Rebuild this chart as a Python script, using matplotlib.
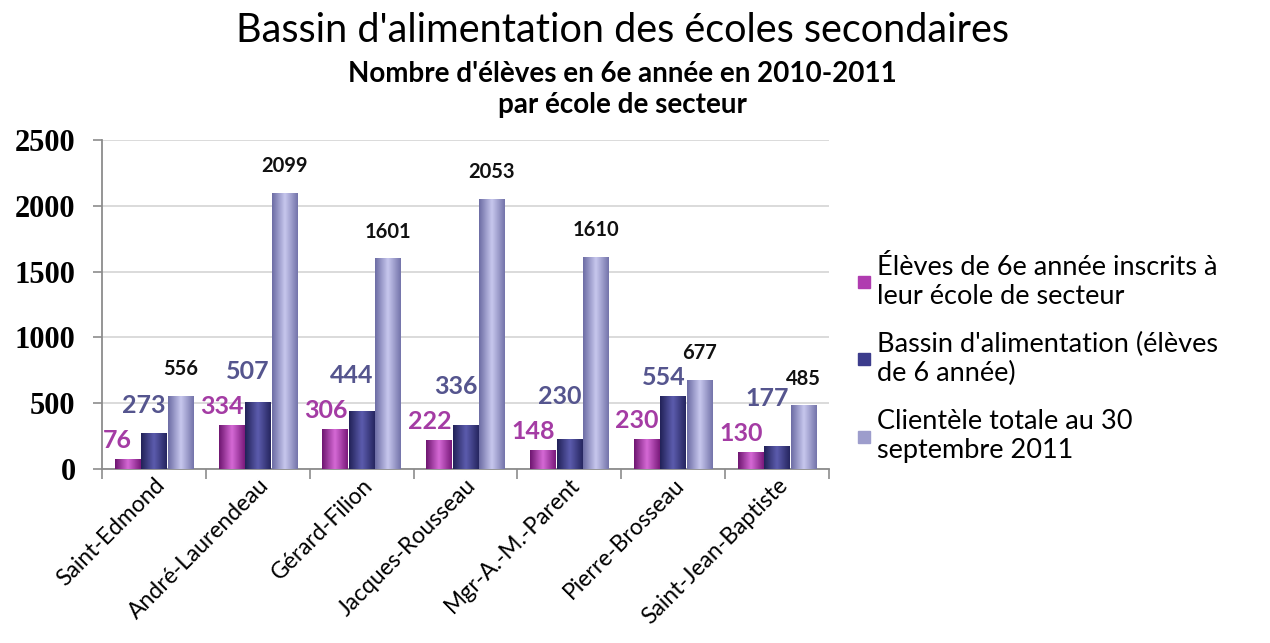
import numpy as np
import matplotlib
matplotlib.use("Agg")
import matplotlib.pyplot as plt
from matplotlib.colors import LinearSegmentedColormap
from matplotlib.lines import Line2D

categories = ["Saint-Edmond", "André-Laurendeau", "Gérard-Filion", "Jacques-Rousseau",
              "Mgr-A.-M.-Parent", "Pierre-Brosseau", "Saint-Jean-Baptiste"]
inscrits = [76, 334, 306, 222, 148, 230, 130]
bassin = [273, 507, 444, 336, 230, 554, 177]
clientele = [556, 2099, 1601, 2053, 1610, 677, 485]
series_names = ["Élèves de 6e année inscrits à\nleur école de secteur",
                "Bassin d'alimentation (élèves\nde 6 année)",
                "Clientèle totale au 30\nseptembre 2011"]
yticks = [0, 500, 1000, 1500, 2000, 2500]

base_colors = ["#b03cb0", "#3c3c8c", "#9d9dcc"]
grad = [["#6e1670", "#d66ad6", "#7a1a7c"],
        ["#222258", "#5c5cae", "#262660"],
        ["#6c6ca4", "#c8c8ee", "#7474aa"]]
label_colors = ["#a43ca4", "#55558e", "#111111"]

fig = plt.figure(figsize=(12.7, 6.43), dpi=100)
ax = fig.add_axes([102/1270, 1-469/643, (829-102)/1270, (469-140)/643])

x = np.arange(len(categories))
w = 0.245
offs = [-0.255, 0.0, 0.255]
data = [inscrits, bassin, clientele]

ax.set_xlim(-0.5, len(categories)-0.5)
ax.set_ylim(0, 2500)

# clearance (data units) so that the 2nd-series label sits above the 1st-series label
clearance = 265

grad_img = np.linspace(0, 1, 64).reshape(1, -1)
for i, (vals, off) in enumerate(zip(data, offs)):
    bars = ax.bar(x + off, vals, width=w, color=base_colors[i], zorder=3)
    cmap = LinearSegmentedColormap.from_list(f"g{i}", grad[i])
    for b in bars:
        x0, y0 = b.get_x(), b.get_y()
        im = ax.imshow(grad_img, cmap=cmap, aspect="auto", zorder=3.5,
                       extent=[x0, x0 + b.get_width(), y0, y0 + b.get_height()],
                       interpolation="bicubic")
        im.set_clip_path(b)
    for j, (b, v) in enumerate(zip(bars, vals)):
        cx = b.get_x() + b.get_width()/2
        if i == 0:
            ax.annotate(str(v), (cx, v), xytext=(-7, 5), textcoords="offset points",
                        ha="center", va="bottom", fontsize=18, fontweight="bold",
                        color=label_colors[i], family="Lato", zorder=5)
        elif i == 1:
            anchor = max(v, inscrits[j] + clearance)
            ax.annotate(str(v), (cx, anchor), xytext=(-7, 5), textcoords="offset points",
                        ha="center", va="bottom", fontsize=18, fontweight="bold",
                        color=label_colors[i], family="Lato", zorder=5)
        else:
            ax.annotate(str(v), (cx, v), xytext=(0, 12), textcoords="offset points",
                        ha="center", va="bottom", fontsize=14.5, fontweight="bold",
                        color=label_colors[i], family="Lato", zorder=5)

ax.set_aspect("auto")
ax.set_xlim(-0.5, len(categories)-0.5)
ax.set_ylim(0, 2500)

ax.set_yticks(yticks)
ax.set_yticklabels([str(t) for t in yticks], family="Liberation Serif",
                   fontsize=22, fontweight="bold")
ax.yaxis.grid(True, color="#d4d4d4", linewidth=1.2, zorder=0)
ax.set_axisbelow(True)

ax.set_xticks(np.arange(-0.5, len(categories)), minor=False)
ax.set_xticklabels([])
ax.set_xticks(x, minor=True)
ax.set_xticklabels(categories, minor=True, rotation=45, ha="right",
                   rotation_mode="anchor", family="Lato", fontsize=16.5)
ax.tick_params(axis="x", which="major", length=7, color="#8c8c8c", width=1.2)
ax.tick_params(axis="x", which="minor", length=0, pad=4)
ax.tick_params(axis="y", length=6.5, color="#8c8c8c", width=1.2, pad=12.5)

for s in ["top", "right"]:
    ax.spines[s].set_visible(False)
for s in ["left", "bottom"]:
    ax.spines[s].set_color("#8c8c8c")
    ax.spines[s].set_linewidth(1.3)

fig.text(0.49, 1-42/643, "Bassin d'alimentation des écoles secondaires",
         ha="center", va="baseline", family="Lato", fontsize=28.5)
fig.text(0.49, 1-82/643, "Nombre d'élèves en 6e année en 2010-2011",
         ha="center", va="baseline", family="Lato", fontsize=20, fontweight="bold")
fig.text(0.49, 1-113/643, "par école de secteur",
         ha="center", va="baseline", family="Lato", fontsize=20, fontweight="bold")

handles = [Line2D([], [], marker="s", linestyle="none", markersize=9,
                  markerfacecolor=c, markeredgecolor=c) for c in base_colors]
fig.legend(handles, series_names, loc="upper left",
           bbox_to_anchor=(846/1270, 1-244/643), frameon=False,
           prop={"family": "Lato", "size": 19.5}, handlelength=0.5,
           handletextpad=0.25, labelspacing=0.85, borderaxespad=0)

fig.savefig("out.png", dpi=100, facecolor="white")
